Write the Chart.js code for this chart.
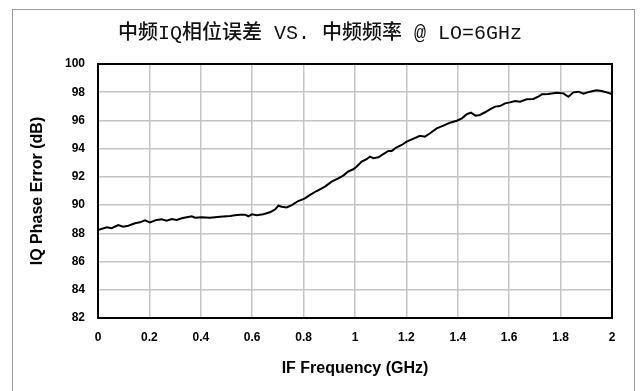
<!DOCTYPE html>
<html>
<head>
<meta charset="utf-8">
<script src="https://cdn.jsdelivr.net/npm/chart.js@4"></script>
<style>
  html, body { margin: 0; padding: 0; background: #fff; }
  #wrap { position: relative; width: 640px; height: 391px; overflow: hidden; }
  #frame { position: absolute; left: 12px; top: 9px; width: 621px; height: 420px; border: 1px solid #9a9a9a; }
  canvas { position: absolute; left: 0; top: 0; }
</style>
</head>
<body>
<div id="wrap">
  <div id="frame"></div>
  <canvas id="phaseChart" width="640" height="391"></canvas>
</div>
<script>
// data
const freqGHz = [0, 0.034, 0.053, 0.079, 0.098, 0.118, 0.144, 0.163, 0.183, 0.202,
  0.228, 0.248, 0.267, 0.287, 0.306, 0.326, 0.345, 0.365, 0.377, 0.403,
  0.436, 0.475, 0.514, 0.533, 0.553, 0.572, 0.585, 0.599, 0.618, 0.643,
  0.669, 0.689, 0.702, 0.715, 0.734, 0.754, 0.779, 0.805, 0.825, 0.851,
  0.883, 0.909, 0.935, 0.954, 0.973, 0.993, 1.006, 1.026, 1.045, 1.058,
  1.071, 1.091, 1.110, 1.130, 1.143, 1.162, 1.182, 1.201, 1.221, 1.240,
  1.253, 1.272, 1.292, 1.318, 1.344, 1.370, 1.396, 1.416, 1.435, 1.451,
  1.469, 1.486, 1.506, 1.525, 1.545, 1.564, 1.584, 1.603, 1.623, 1.642,
  1.668, 1.694, 1.713, 1.727, 1.752, 1.785, 1.811, 1.830, 1.850, 1.869,
  1.889, 1.914, 1.940, 1.960, 1.979, 2.0];

const phaseErr = [88.24, 88.43, 88.36, 88.59, 88.47, 88.54, 88.71, 88.78, 88.92, 88.78,
  88.95, 88.99, 88.90, 89.02, 88.95, 89.07, 89.14, 89.21, 89.11, 89.14,
  89.11, 89.18, 89.23, 89.28, 89.32, 89.32, 89.21, 89.35, 89.28, 89.35,
  89.49, 89.70, 89.96, 89.89, 89.84, 90.00, 90.29, 90.48, 90.72, 91.00,
  91.31, 91.66, 91.90, 92.09, 92.37, 92.54, 92.72, 93.08, 93.25, 93.43,
  93.32, 93.39, 93.62, 93.84, 93.84, 94.10, 94.26, 94.50, 94.66, 94.81,
  94.92, 94.85, 95.09, 95.44, 95.63, 95.84, 95.98, 96.15, 96.44, 96.55,
  96.34, 96.39, 96.58, 96.79, 96.98, 97.02, 97.21, 97.28, 97.38, 97.33,
  97.50, 97.52, 97.68, 97.85, 97.88, 97.97, 97.92, 97.68, 97.99, 98.04,
  97.90, 98.04, 98.14, 98.09, 97.99, 97.88];

const xTickLabels = ["0", "0.2", "0.4", "0.6", "0.8", "1", "1.2", "1.4", "1.6", "1.8", "2"];
const yTickLabels = ["82", "84", "86", "88", "90", "92", "94", "96", "98", "100"];

const titleText = "中频IQ相位误差 VS. 中频频率 @ LO=6GHz";
const xTitle = "IF Frequency (GHz)";
const yTitle = "IQ Phase Error (dB)";

// box round the plot area
const plotBorder = {
  id: "plotBorder",
  afterDraw(chart) {
    const { ctx, chartArea } = chart;
    ctx.save();
    ctx.strokeStyle = "#000";
    ctx.lineWidth = 2;
    ctx.strokeRect(chartArea.left, chartArea.top, chartArea.right - chartArea.left, chartArea.bottom - chartArea.top);
    ctx.restore();
  }
};

const tickFont = { family: "'Liberation Sans', Arial, sans-serif", size: 12, weight: "bold" };

new Chart(document.getElementById("phaseChart"), {
  type: "line",
  data: {
    datasets: [{
      data: freqGHz.map((f, i) => ({ x: f, y: phaseErr[i] })),
      borderColor: "#000",
      borderWidth: 2,
      pointRadius: 0,
      tension: 0,
      fill: false
    }]
  },
  options: {
    responsive: false,
    animation: false,
    layout: { padding: { left: 28, right: 28, top: 0, bottom: 0 } },
    plugins: {
      legend: { display: false },
      tooltip: { enabled: false },
      title: {
        display: true,
        text: titleText,
        color: "#111",
        font: { family: "'Liberation Mono', 'Noto Sans CJK SC', monospace", size: 20, weight: "500", lineHeight: 1.2 },
        padding: { top: 22, bottom: 18 }
      }
    },
    scales: {
      x: {
        type: "linear",
        min: 0,
        max: 2,
        ticks: {
          stepSize: 0.2,
          color: "#000",
          font: tickFont,
          padding: 12,
          maxRotation: 0,
          autoSkip: false,
          callback: (v, i) => xTickLabels[i]
        },
        grid: { color: "#c4c4c4", lineWidth: 1.5, drawTicks: false },
        border: { display: false },
        title: {
          display: true,
          text: xTitle,
          color: "#000",
          font: { family: "'Liberation Sans', Arial, sans-serif", size: 16, weight: "bold", lineHeight: 1.2 },
          padding: { top: 0, bottom: 13 }
        },
        afterFit(axis) { axis.height = 73; }
      },
      y: {
        min: 82,
        max: 100,
        ticks: {
          stepSize: 2,
          color: "#000",
          font: tickFont,
          padding: 13,
          callback: (v, i) => yTickLabels[i]
        },
        grid: { color: "#c4c4c4", lineWidth: 1.5, drawTicks: false },
        border: { display: false },
        title: {
          display: true,
          text: yTitle,
          color: "#000",
          font: { family: "'Liberation Sans', Arial, sans-serif", size: 16, weight: "bold", lineHeight: 1.2 },
          padding: { top: 0, bottom: 0 }
        },
        afterFit(axis) { axis.width = 70; }
      }
    }
  },
  plugins: [plotBorder]
});
</script>
</body>
</html>
